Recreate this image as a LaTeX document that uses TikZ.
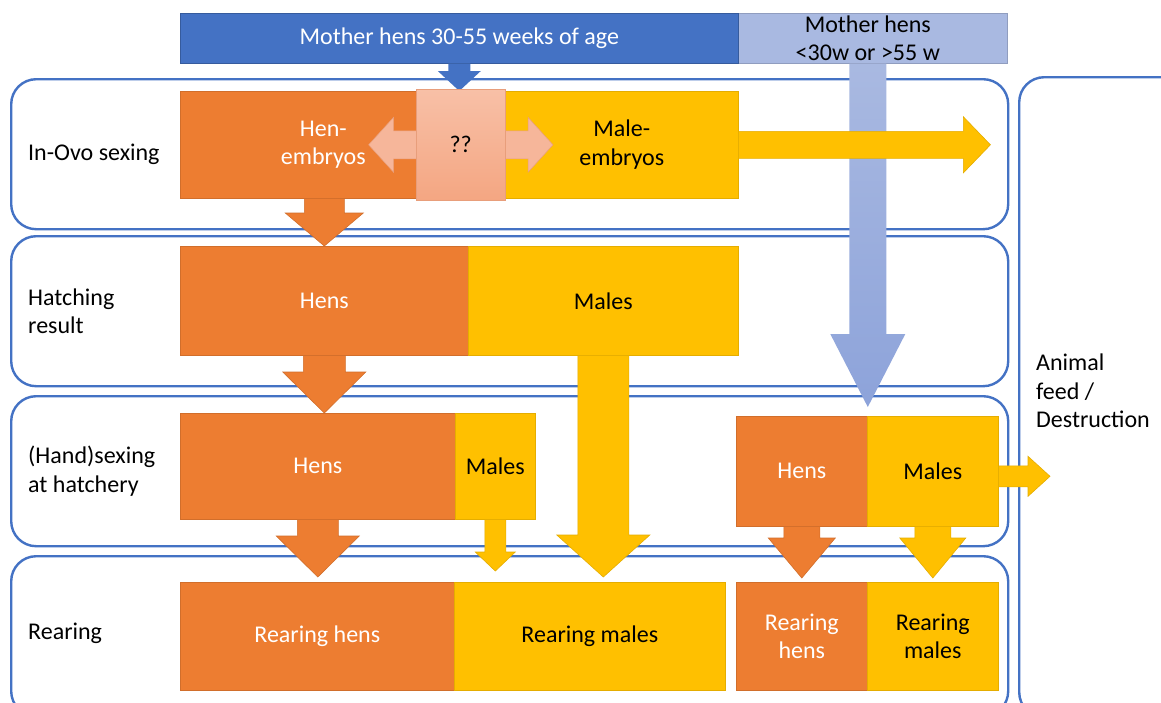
\documentclass[tikz,border=0pt]{standalone}
\usepackage{fontspec}
\setmainfont{Carlito}
\usetikzlibrary{positioning,calc}
\definecolor{henorange}{RGB}{237,125,49}
\definecolor{maleyellow}{RGB}{255,192,0}
\definecolor{barblue}{RGB}{68,114,196}
\definecolor{paleblue}{RGB}{169,185,225}
\definecolor{deepblue}{RGB}{141,163,218}
\definecolor{salmonlight}{RGB}{248,192,167}
\definecolor{salmondark}{RGB}{244,166,130}
\definecolor{salmonarrow}{RGB}{246,182,154}
\tikzset{
  panel/.style ={rectangle, rounded corners=25pt, draw=barblue, line width=2.4pt, fill=white,
                 inner sep=0pt, anchor=north west},
  hbox/.style  ={rectangle, draw=henorange!88!black, line width=0.6pt, fill=henorange,
                 text=white, align=center, inner sep=0pt, anchor=north west},
  mbox/.style  ={rectangle, draw=maleyellow!90!black, line width=0.6pt, fill=maleyellow,
                 text=black, align=center, inner sep=0pt, anchor=north west},
  qqbox/.style ={rectangle, draw=salmondark!95!black, line width=0.5pt, top color=salmonlight,
                 bottom color=salmondark, text=black, align=center, inner sep=0pt, anchor=north west},
  bar/.style   ={rectangle, line width=0.6pt, align=center, inner sep=0pt, anchor=north west,
                 minimum height=50pt},
  stage/.style ={align=left, text=black, inner sep=0pt, anchor=west},
  harrow/.style={fill=henorange, draw=henorange!88!black, line width=0.6pt},
  marrow/.style={fill=maleyellow, draw=maleyellow!90!black, line width=0.6pt},
  barrow/.style={fill=barblue},
  larrow/.style={top color=paleblue, bottom color=deepblue},
  qarrow/.style={fill=salmonarrow, draw=salmondark!95!black, line width=0.5pt}
}
% block arrows: [style]{start}{tip}{half shaft}{half head}{head length}
\newcommand{\downblock}[6][]{%
  \path[#1] let \p1=(#2), \p2=(#3) in
    (\x1-#4,\y1) -- (\x1+#4,\y1) -- (\x1+#4,\y2+#6) -- (\x1+#5,\y2+#6)
    -- (\x1,\y2) -- (\x1-#5,\y2+#6) -- (\x1-#4,\y2+#6) -- cycle;}
\newcommand{\rightblock}[6][]{%
  \path[#1] let \p1=(#2), \p2=(#3) in
    (\x1,\y1+#4) -- (\x2-#6,\y1+#4) -- (\x2-#6,\y1+#5) -- (\x2,\y1)
    -- (\x2-#6,\y1-#5) -- (\x2-#6,\y1-#4) -- (\x1,\y1-#4) -- cycle;}
\newcommand{\bothblock}[6][]{%
  \path[#1] let \p1=(#2), \p2=(#3) in
    (\x1,\y1) -- (\x1+#6,\y1+#5) -- (\x1+#6,\y1+#4) -- (\x2-#6,\y1+#4)
    -- (\x2-#6,\y1+#5) -- (\x2,\y1) -- (\x2-#6,\y1-#5) -- (\x2-#6,\y1-#4)
    -- (\x1+#6,\y1-#4) -- (\x1+#6,\y1-#5) -- cycle;}

\begin{document}
\begin{tikzpicture}[x=1pt, y=-1pt, font=\fontsize{24}{28.5}\selectfont]
\clip (0,0) rectangle (1161,702);
% ---- Stage panels ----
\node[panel, minimum width=997pt, minimum height=150pt] (pinovo) at (10,78) {};
\node[panel, minimum width=997pt, minimum height=150pt] (phatch) at (10,235) {};
\node[panel, minimum width=997pt, minimum height=150pt] (psex) at (10,395) {};
\node[panel, minimum width=997pt, minimum height=160pt] (prear) at (10,555) {};
\node[panel, minimum width=172pt, minimum height=640pt] (pfeed) at (1018,76) {};
\node[stage, right=18pt of pinovo.west] (linovo) {In-Ovo sexing};
\node[stage, right=18pt of phatch.west] (lhatch) {Hatching\\result};
\node[stage, right=18pt of psex.west] (lsex) {(Hand)sexing\\at hatchery};
\node[stage, right=18pt of prear.west, yshift=3pt] (lrear) {Rearing};
\node[stage] (lfeed) at (1036,391) {Animal\\feed /\\Destruction};

% ---- Mother hens ----
\node[bar, fill=paleblue, draw=paleblue!85!black, minimum width=279pt] (lbar) at (728,13)
  {Mother hens\\<30w or >55 w};
\node[bar, fill=barblue, draw=barblue!80!black, text=white, minimum width=558pt] (dbar) at (180,13)
  {Mother hens 30-55 weeks of age};

% ---- Boxes ----
\node[hbox, minimum width=286pt, minimum height=107pt] (hemb) at (180,91) {Hen-\\embryos};
\node[mbox, minimum width=233pt, minimum height=107pt] (memb) at (505,91) {Male-\\embryos};
\node[hbox, minimum width=288pt, minimum height=109pt] (hhat) at (180,246) {Hens};
\node[mbox, minimum width=270pt, minimum height=109pt] (mhat) at (468,246) {Males};
\node[hbox, minimum width=275pt, minimum height=106pt] (hsex) at (180,413) {Hens};
\node[mbox, minimum width=80pt, minimum height=106pt] (msex) at (455,413) {Males};
\node[hbox, minimum width=274pt, minimum height=108pt] (hrear) at (180,582) {Rearing hens};
\node[mbox, minimum width=271pt, minimum height=108pt] (mrear) at (454,582) {Rearing males};
\node[hbox, minimum width=131pt, minimum height=110pt] (rhens) at (736,416) {Hens};
\node[mbox, minimum width=131pt, minimum height=110pt] (rmales) at (867,416) {Males};
\node[hbox, minimum width=131pt, minimum height=108pt] (rrhens) at (736,582) {Rearing\\hens};
\node[mbox, minimum width=131pt, minimum height=108pt] (rrmales) at (867,582) {Rearing\\males};

% ---- Arrows ----
\downblock[larrow]{lbar.south}{$(rhens.north east)+(0,-9)$}{18.5pt}{37.5pt}{73pt}
\downblock[barrow]{dbar.south}{hemb.north}{11pt}{21.5pt}{20pt}
\coordinate (membend) at ($(pinovo.east)+(-19,0)$);
\rightblock[marrow]{memb.east}{membend}{13.5pt}{28pt}{27pt}
\coordinate (qqleft) at ($(hemb.east)+(-98,0)$);
\coordinate (qqright) at ($(memb.west)+(48,0)$);
\bothblock[qarrow]{qqleft}{qqright}{14pt}{27.5pt}{25pt}
\node[qqbox, minimum width=89pt, minimum height=111pt] (qq) at (416,89) {??};

\downblock[harrow]{hhat.north |- hemb.south}{hhat.north}{20pt}{39pt}{33pt}
\downblock[harrow]{hhat.south}{hhat.south |- hsex.north}{21pt}{41.5pt}{41pt}
\downblock[marrow]{mhat.south}{$(mrear.north)+(0,-5)$}{25.5pt}{46.5pt}{42pt}
\downblock[harrow]{hsex.south}{$(hrear.north)+(0,-5)$}{20.5pt}{41.5pt}{41pt}
\downblock[marrow]{msex.south}{$(mrear.north)+(0,-11)$}{10.5pt}{20pt}{19pt}
\downblock[harrow]{rhens.south}{$(rrhens.north)+(0,-4)$}{18pt}{33.5pt}{40pt}
\downblock[marrow]{rmales.south}{$(rrmales.north)+(0,-4)$}{18pt}{33pt}{40pt}
\coordinate (feedend) at ($(pfeed.west)+(32,0)$);
\rightblock[marrow]{$(rmales.east)+(0,5)$}{feedend}{10.5pt}{20pt}{22pt}
\end{tikzpicture}
\end{document}
